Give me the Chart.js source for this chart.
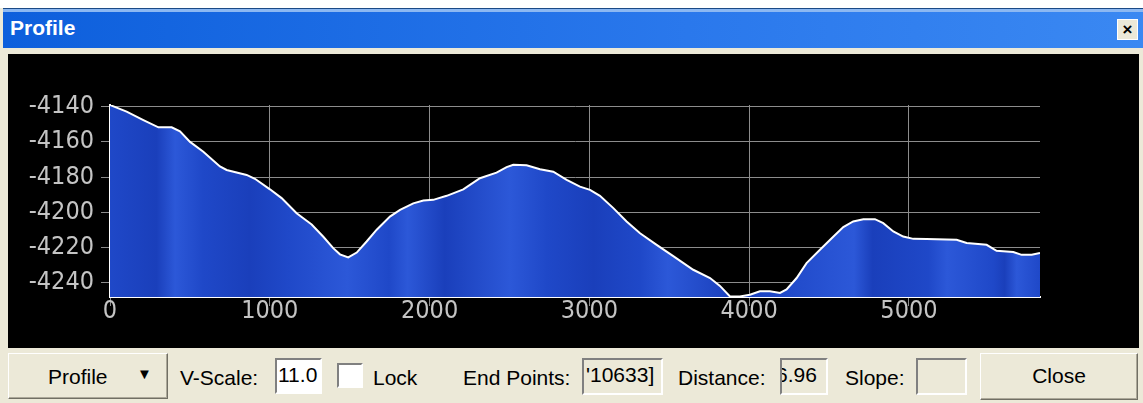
<!DOCTYPE html>
<html>
<head>
<meta charset="utf-8">
<script src="https://cdn.jsdelivr.net/npm/chart.js@4.4.1/dist/chart.umd.min.js"></script>
<style>
  body { margin: 0; width: 1143px; height: 403px; background: #ece9d8; position: relative; overflow: hidden;
         font-family: "Liberation Sans", Arial, sans-serif; }
  .abs { position: absolute; }
  #topwhite { left: 0; top: 0; width: 1143px; height: 8px; background: #fff; }
  #titlebar { left: 3px; top: 8px; width: 1140px; height: 40px;
    background: linear-gradient(to bottom, #1b4a86 0, #1b4a86 1px, #8cb8f2 1px, #8cb8f2 4px, rgba(0,0,0,0) 4px),
                linear-gradient(to right, #0d5fdc, #2a78ec 60%, #3a88f2); }
  #title { left: 10px; top: 16px; color: #fff; font-weight: bold; font-size: 21px; }
  #xbtn { left: 1117px; top: 19px; width: 21px; height: 21px; background: #ece9d8; border: 1px solid #fff;
          box-sizing: border-box; font-weight: bold; font-size: 17px; line-height: 19px; text-align: center; color: #000; }
  #plotbox { left: 8px; top: 54px; width: 1131px; height: 294px; background: #000; }
  .btn { box-sizing: border-box; border: 1px solid #fff; border-right-color: #716f64; border-bottom-color: #716f64;
         box-shadow: inset -1px -1px 0 #aca899; background: #ece9d8; font-size: 21px; color: #000; }
  .lbl { font-size: 21px; color: #000; top: 366px; }
  .fld { box-sizing: border-box; border: 2px solid #808080; border-right-color: #fff; border-bottom-color: #fff;
         font-size: 21px; line-height: 30px; overflow: hidden; white-space: nowrap; }
</style>
</head>
<body>
<div id="topwhite" class="abs"></div>
<div id="titlebar" class="abs"></div>
<div id="title" class="abs">Profile</div>
<div id="xbtn" class="abs">×</div>
<div id="plotbox" class="abs"><canvas id="profileChart" width="1131" height="294"></canvas></div>

<div class="abs btn" style="left:8px;top:353px;width:160px;height:46px;">
  <span class="abs" style="left:39px;top:11px;">Profile</span>
  <span class="abs" style="left:128px;top:11px;font-size:15px;">▼</span>
</div>
<div class="abs lbl" style="left:180px;">V-Scale:</div>
<div class="abs fld" style="left:275px;top:358px;width:47px;height:36px;background:#fff;padding-left:1px;">11.0</div>
<div class="abs fld" style="left:337px;top:363px;width:26px;height:25px;background:#fff;"></div>
<div class="abs lbl" style="left:373px;">Lock</div>
<div class="abs lbl" style="left:463px;">End Points:</div>
<div class="abs fld" style="left:582px;top:358px;width:81px;height:37px;background:#ece9d8;padding-left:2px;">'10633]</div>
<div class="abs lbl" style="left:678px;">Distance:</div>
<div class="abs fld" style="left:780px;top:358px;width:48px;height:37px;background:#ece9d8;text-indent:-6px;">6.96</div>
<div class="abs lbl" style="left:845px;">Slope:</div>
<div class="abs fld" style="left:916px;top:358px;width:51px;height:37px;background:#ece9d8;"></div>
<div class="abs btn" style="left:980px;top:353px;width:158px;height:47px;text-align:center;line-height:44px;">Close</div>

<script>
// profile samples (distance, elevation)
const distances = [0, 104, 209, 303, 386, 438, 501, 584, 688, 730, 855, 907, 1001, 1074, 1168, 1262, 1335, 1397,
  1439, 1491, 1544, 1606, 1669, 1752, 1815, 1898, 1961, 2023, 2107, 2211, 2315, 2419, 2482, 2524, 2607, 2691,
  2774, 2858, 2941, 3004, 3066, 3150, 3233, 3317, 3421, 3525, 3650, 3755, 3817, 3880, 3942, 4005, 4067, 4130,
  4193, 4234, 4297, 4359, 4443, 4526, 4589, 4651, 4714, 4787, 4839, 4902, 4964, 5027, 5110, 5298, 5361, 5486,
  5548, 5653, 5705, 5768, 5820];
const elevations = [-4139, -4142.8, -4147.6, -4151.7, -4151.7, -4154, -4160, -4165.6, -4174, -4176, -4178.8, -4181,
  -4187, -4192, -4200.6, -4207, -4214, -4220.5, -4224, -4225.8, -4223, -4216.7, -4210, -4202.5, -4198.7, -4195,
  -4193.4, -4193, -4190.7, -4187, -4180.7, -4177.5, -4174.4, -4173, -4173.3, -4175.6, -4177, -4181.6, -4185.5,
  -4187.3, -4190.7, -4197.7, -4205.3, -4212, -4218.6, -4225, -4232.8, -4237.5, -4242, -4248, -4248, -4247, -4245,
  -4245, -4246, -4244, -4237.5, -4229, -4221.4, -4214, -4208.5, -4205.3, -4204, -4204, -4206.3, -4211, -4213.9,
  -4215.2, -4215.3, -4215.7, -4217.6, -4218.6, -4222, -4222.7, -4224.3, -4224.3, -4223.3];
const xTicks = [0, 1000, 2000, 3000, 4000, 5000];
const yTicks = [-4140, -4160, -4180, -4200, -4220, -4240];

const tickFont = { family: "'Liberation Sans Narrow', 'DejaVu Sans Condensed', sans-serif", size: 25 };

// streaky blue fill
function fillGradient(ctx) {
  const area = ctx.chart.chartArea;
  if (!area) return '#1f48c8';
  const g = ctx.chart.ctx.createLinearGradient(area.left, 0, area.right, 0);
  const light = '#2c58d8', mid = '#1f48c8', dark = '#1a3fbb';
  [[0, mid], [0.05, dark], [0.07, light], [0.1, mid], [0.15, dark], [0.19, mid], [0.255, light], [0.3, mid],
   [0.32, light], [0.36, dark], [0.43, light], [0.47, mid], [0.52, dark], [0.57, mid], [0.6, light],
   [0.67, dark], [0.72, mid], [0.8, light], [0.82, dark], [0.88, mid], [0.9, light], [0.95, mid],
   [0.962, dark], [0.975, light], [1, mid]]
    .forEach(s => g.addColorStop(s[0], s[1]));
  return g;
}

new Chart(document.getElementById('profileChart'), {
  type: 'line',
  data: {
    datasets: [{
      data: distances.map((d, i) => ({ x: d, y: elevations[i] })),
      borderColor: '#ffffff',
      borderWidth: 2,
      pointRadius: 0,
      tension: 0,
      fill: 'start',
      backgroundColor: fillGradient
    }]
  },
  options: {
    responsive: false,
    animation: false,
    layout: { padding: { left: 0, top: 51, right: 99, bottom: 1 } },
    plugins: { legend: { display: false }, tooltip: { enabled: false } },
    scales: {
      x: {
        type: 'linear', min: 0, max: 5820, z: 1,
        afterBuildTicks: s => { s.ticks = xTicks.map(v => ({ value: v })); },
        afterFit: s => { s.height = 50; },
        grid: { color: '#8c8c8c', lineWidth: 1, tickLength: 9 },
        border: { color: '#ffffff', width: 2 },
        ticks: { color: '#c4c4c4', font: tickFont, padding: -10, maxRotation: 0, autoSkip: false,
                 callback: v => String(v) }
      },
      y: {
        type: 'linear', min: -4248.3, max: -4139, z: 1,
        afterBuildTicks: s => { s.ticks = yTicks.map(v => ({ value: v })); },
        afterFit: s => { s.width = 102; },
        grid: { color: '#8c8c8c', lineWidth: 1, tickLength: 9 },
        border: { color: '#ffffff', width: 2 },
        ticks: { color: '#c4c4c4', font: tickFont, padding: 7, callback: v => String(v) }
      }
    }
  }
});
</script>
</body>
</html>
